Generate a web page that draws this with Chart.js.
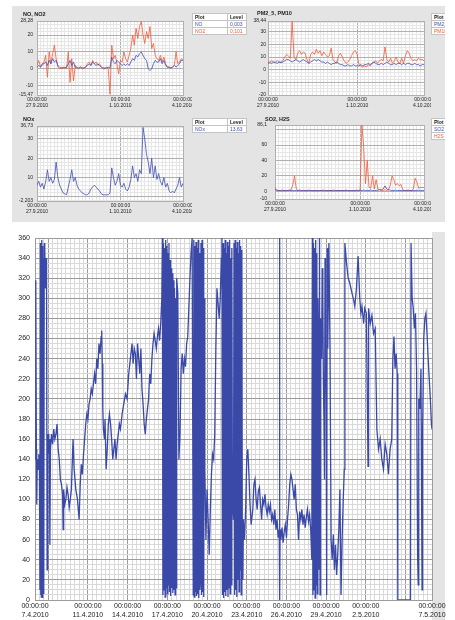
<!DOCTYPE html>
<html lang="cs">
<head>
<meta charset="UTF-8">
<title>Imise a směr větru</title>
<script src="https://cdn.jsdelivr.net/npm/chart.js@4.4.0/dist/chart.umd.min.js"></script>
<style>
  body { margin: 0; width: 455px; height: 620px; position: relative; overflow: hidden; background: #fff;
         font-family: "Liberation Sans", Arial, sans-serif; color: #222; }
  .panel { position: absolute; left: 12px; top: 6px; width: 433px; height: 216px; background: #e4e4e4; }
  .strip { position: absolute; left: 432px; top: 232px; width: 13px; height: 388px; background: #e4e4e4; }
  .box { position: absolute; }
  .ttl { position: absolute; font-size: 5.5px; font-weight: bold; white-space: nowrap; }
  .clip { position: absolute; left: 431px; width: 14px; overflow: hidden; }
  .leg { position: absolute; border-collapse: collapse; font-size: 5px; line-height: 6px; background: #fff; }
  .leg td, .leg th { border: 1px solid #c4c4c4; padding: 0 2px; height: 6px; text-align: left; white-space: nowrap; }
  .leg th { font-weight: bold; }
  .b { color: #3f4db0; }
  .r { color: #ef5a38; }
</style>
</head>
<body>
<div class="panel"></div>
<div class="strip"></div>

<div class="box" style="left:12px;top:6px;width:180px;height:106px"><canvas id="c1"></canvas></div>
<div class="box" style="left:250px;top:6px;width:181px;height:106px"><canvas id="c2"></canvas></div>
<div class="box" style="left:12px;top:112px;width:180px;height:106px"><canvas id="c3"></canvas></div>
<div class="box" style="left:250px;top:112px;width:181px;height:104px"><canvas id="c4"></canvas></div>
<div class="box" style="left:0;top:228px;width:455px;height:392px"><canvas id="c5"></canvas></div>

<div class="ttl" style="left:23px;top:11px">NO, NO2</div>
<div class="ttl" style="left:257px;top:10px">PM2_5, PM10</div>
<div class="ttl" style="left:23px;top:116px">NOx</div>
<div class="ttl" style="left:265px;top:116px">SO2, H2S</div>

<table class="leg" style="left:192px;top:13px">
  <tr><th style="width:30px">Plot</th><th style="width:14px">Level</th></tr>
  <tr><td class="b">NO</td><td class="b">0,003</td></tr>
  <tr><td class="r">NO2</td><td class="r">0,101</td></tr>
</table>
<table class="leg" style="left:192px;top:118px">
  <tr><th style="width:30px">Plot</th><th style="width:14px">Level</th></tr>
  <tr><td class="b">NOx</td><td class="b">13,63</td></tr>
</table>
<div class="clip" style="top:13px;height:30px">
  <table class="leg" style="left:0;top:0">
    <tr><th style="width:30px">Plot</th></tr>
    <tr><td class="b">PM2_5</td></tr>
    <tr><td class="r">PM10</td></tr>
  </table>
</div>
<div class="clip" style="top:118px;height:30px">
  <table class="leg" style="left:0;top:0">
    <tr><th style="width:30px">Plot</th></tr>
    <tr><td class="b">SO2</td></tr>
    <tr><td class="r">H2S</td></tr>
  </table>
</div>

<script>
  // --- horni grafy: 27.9.2010 - 4.10.2010, hodnota kazde 2 hodiny ---
  const weekLabels = { 0: ['00:00:00', '27.9.2010'], 96: ['00:00:00', '1.10.2010'], 168: ['00:00:00', '4.10.2010'] };

  const noSeries = [1, 2, 1, 3,
    3, 4, 2, 5, 3, 6, 4, 5,
    2, 1, 0.5, 1, 0.5, 1,
    3, 5, 2, 4, 1, 0.5,
    0.5, 1, 0.5, 0.5, 1, 2,
    3, 2, 4, 3, 2, 3, 2, 1, 0.5,
    0.5, 0.5, 1, 0.5, 7,
    4, 3, 5, 4, 3, 2, 3,
    2, 3, 2, 4, 6,
    5, 8, 7, 9, 10, 8, 6, 5,
    0, -1, 0, 3, 5, 4,
    4, 6, 3, 5, 2, 1,
    1, 0.5, 1, 2, 1,
    2, 3, 5, 5];
  const no2Series = [2, 5, 1, 2,
    4, 8, -5, 10, 3, 9, 14, 6,
    1, 0, 0.5, 0, 1, 0,
    10, -8, 6, -7, 2, 1,
    0, 1, 0, 0.5, 1, 3,
    4, 2, 5, 3, 4, 2, 3, 1, 0,
    0, 1, 0, -15, 14,
    6, 8, 3, -3, 5, 4, 10,
    6, 4, 8, 12, 20,
    14, 24, 18, 25, 28, 20, 15, 22,
    18, 25, 12, 15, 8, 6,
    5, 8, 4, 7, 3, 1,
    1, 0.5, 1, 2, 10,
    3, 4, 6, 5];

  const pm25Series = [5, 5.5, 5, 6, 5.5, 5, 6, 5.5, 6, 7, 8, 8,
    7, 6, 7, 8, 7, 6, 7, 8, 7, 6, 5, 6,
    7, 8, 7, 8, 7, 6, 6, 5, 6, 5, 4, 5,
    5, 6, 5, 4, 4, 3, 3, 4, 3, 3, 4, 3,
    3, 3, 4, 3, 4, 4, 5, 4, 5, 6, 5, 4,
    4, 5, 4, 5, 6, 5, 4, 4, 5, 4, 5, 5,
    4, 5, 4, 5, 5, 4, 4, 5, 4, 4, 3, 4, 4];
  const pm10Series = [6, 6, 7, 6, 6, 7, 6, 6, 7, 10, 12, 11,
    9, 38, 10, 8, 13, 15, 12, 14, 13, 8, 5, 12,
    14, 12, 16, 13, 15, 11, 14, 12, 10, 11, 17, 8,
    6, 5, 11, 13, 10, 7, 5, 6, 8, 11, 14, 15,
    12, 4, 3, 2, 3, 2, 4, 3, 5, 6, 7, 5,
    7, 8, 7, 18, 8, 6, 9, 5, 7, 10, 6, 5,
    9, 5, 11, 15, 13, 9, 7, 8, 7, 9, 8, 8, 7];

  const noxSeries = [6, 8, 5, 7, 4, 8, 14, 8, 10, 7, 9, 18,
    10, 6, 4, 2, 1.5, 1, 5, 9, 14, 8, 10, 6,
    4, 3, 2, 1.5, 1, 1, 2, 4, 5, 6, 5, 4,
    3, 1.5, 1, 1, 1, 1, 2, 15, 10, 6, 8, 12,
    6, 5, 7, 4, 3, 5, 9, 16, 10, 12, 8, 14,
    12, 36, 30, 22, 18, 12, 20, 10, 16, 9, 12, 8,
    6, 10, 5, 7, 3, 2, 3, 2, 4, 6, 10, 5, 7];

  const so2Series = [2, 1.5, 1, 1, 1.5, 1, 1, 1, 1.5, 1, 1, 1,
    1, 1, 1.5, 1, 1, 1, 1, 1.5, 1, 1, 1, 1,
    1, 1, 1, 1.5, 1, 1, 1, 1, 1, 1.5, 1, 1,
    1, 1, 1, 1, 1.5, 1, 1, 1, 1, 1, 1.5, 1,
    1, 1, 1.5, 1, 1, 1, 1.5, 1, 1, 1, 1.5, 2,
    2, 3, 7, 3, 2, 1.5, 1, 1, 1.5, 1, 1, 1,
    1, 1, 1, 1.5, 1, 1, 1, 1, 1, 1.5, 1, 1, 1];
  const h2sSeries = [5, 1, 1, 1, 0.5, 1, 1, 1, 1, 2, 8, 20,
    3, 1, 1, 0.5, 1, 1, 0.5, 1, 1, 0.5, 1, 1,
    0.5, 1, 1, 0.5, 1, 1, 0.5, 1, 1, 0.5, 1, 1,
    0.5, 1, 1, 0.5, 1, 1, 0.5, 1, 1, 0.5, 1, 1,
    2, 86, 57, 10, 40, 5, 4, 20, 3, 15, 3, 2,
    1, 1, 2, 1, 2, 8, 20, 15, 8, 10, 7, 9,
    2, 1, 1, 1, 1, 1, 3, 17, 12, 4, 5, 5, 5];

  // --- dolni graf: smer vetru 7.4.2010 - 7.5.2010, hodiny od zacatku ---
  const windHours = [0, 1, 1.8, 2.5, 3.2, 4, 5, 6, 7, 8,
    9, 9.6, 10.2, 10.8, 11.4, 12, 12.6, 13.2, 13.8, 14.4, 15, 15.6, 16.2, 16.8, 17.4, 18, 19, 20, 21, 22,
    23, 24, 25, 26, 27, 28, 30, 32, 34, 36, 38, 40, 42, 44, 46, 48, 50, 51, 52, 54,
    56, 58, 60, 62, 64, 66, 69, 71, 74, 77, 80, 82, 84, 86, 88, 90, 92, 94, 96, 98,
    100, 102, 104, 106, 108, 110, 112, 114, 116, 118, 120, 121, 122, 123, 124, 126, 127, 129, 131, 133,
    135, 137, 139, 141, 143, 145, 147, 149, 151, 153, 155, 158, 161, 164, 167, 170, 173, 176, 178, 180,
    182, 184, 186, 188, 190, 192, 194, 196, 198, 200, 202, 204, 206, 208, 210, 212, 214, 216, 218, 220,
    222, 224, 226, 228, 230, 231, 232, 233, 234, 235, 236, 237, 238, 239, 240, 241, 242, 243, 244, 245,
    246, 247, 248, 249, 250, 251, 252, 253, 254, 255, 256, 257, 259, 261, 263, 265, 267, 269, 271, 273,
    275, 277, 279, 281, 283, 285, 287, 288, 289, 290, 291, 292, 293, 294, 295, 296, 297, 298, 299, 300,
    301, 302, 303, 304, 305, 306, 307, 308, 310, 312, 314, 316, 318, 320, 322, 324, 326, 328, 330, 332,
    334, 336, 338, 339, 340, 341, 342, 343, 344, 345, 346, 347, 348, 349, 350, 351, 352, 353, 354, 355,
    356, 357, 358, 360, 361, 362, 363, 364, 365, 366, 367, 368, 369, 370, 371, 372, 373, 374, 375, 376,
    377, 378, 380, 382, 384, 386, 388, 390, 392, 395, 397, 399, 401, 403, 405, 407, 409, 411, 413, 415,
    417, 419, 421, 423, 425, 427, 429, 431, 433, 435, 437, 439, 441, 443, 443.5, 444, 444.5, 446, 448, 450,
    452, 454, 456, 458, 460, 462, 464, 466, 468, 470, 472, 474, 476, 478, 480, 482, 484, 486, 488, 490,
    492, 494, 496, 498, 500, 502, 503, 504, 505, 506, 507, 508, 509, 510, 511, 512, 513, 514, 515, 516,
    517, 518, 520, 521, 522, 523, 524, 525, 526, 527, 528, 529, 530, 531, 533, 535, 537, 539, 541, 543,
    545, 547, 549, 551, 553, 555, 557, 559, 561, 562, 565, 568, 571, 575, 578, 580, 583, 586, 589, 591,
    593, 596, 598, 601, 604, 605, 608, 611, 614, 617, 620, 623, 626, 629, 632, 635, 638, 641, 644, 647,
    649, 651, 653, 655, 657, 658, 681, 682, 684, 686, 688, 690, 692, 694, 695, 696, 698, 700, 702, 703,
    705, 707, 709, 711, 713, 715, 717, 719, 720];
  const windDeg = [140, 300, 318, 150, 95, 135, 140, 130, 145, 135,
    10, 355, 5, 350, 3, 358, 8, 352, 2, 346, 10, 340, 6, 355, 330, 350, 310, 340, 305, 30,
    150, 165, 145, 160, 55, 150, 165, 155, 170, 160, 165, 175, 150, 140, 120, 115, 105, 70, 110, 95,
    100, 112, 105, 92, 100, 110, 160, 130, 110, 100, 80, 115, 135, 125, 145, 160, 175, 185, 180, 195,
    200, 210, 205, 215, 225, 215, 240, 230, 255, 245, 262, 268, 235, 190, 170, 160, 180, 130, 150, 175,
    185, 175, 160, 140, 150, 160, 140, 155, 165, 175, 170, 185, 195, 205, 200, 225, 240, 255, 235, 250,
    245, 220, 255, 240, 225, 250, 210, 195, 175, 165, 180, 190, 200, 225, 215, 240, 255, 265, 258, 250,
    262, 270, 258, 275, 300, 360, 5, 355, 10, 350, 3, 358, 12, 352, 6, 345, 15, 355, 8, 338,
    4, 330, 12, 325, 7, 318, 10, 310, 5, 300, 12, 320, 305, 140, 165, 230, 245, 225, 240, 232,
    255, 262, 290, 320, 345, 360, 5, 358, 3, 352, 8, 356, 4, 350, 6, 358, 2, 345, 10, 20,
    355, 5, 358, 8, 350, 3, 300, 130, 60, 110, 80, 45, 90, 125, 145, 140, 165, 250, 310, 295,
    280, 300, 340, 360, 5, 355, 2, 350, 8, 358, 4, 345, 10, 356, 3, 352, 12, 358, 6, 340,
    15, 350, 100, 80, 355, 5, 358, 10, 350, 3, 356, 20, 345, 8, 358, 30, 352, 5, 348, 40,
    20, 80, 60, 90, 140, 150, 125, 95, 75, 90, 115, 120, 100, 90, 108, 112, 95, 80, 100, 95,
    105, 92, 85, 95, 88, 95, 80, 85, 75, 90, 70, 80, 62, 70, 360, 0, 70, 60, 72, 57,
    68, 75, 62, 80, 95, 115, 125, 120, 110, 100, 115, 90, 85, 60, 88, 80, 90, 75, 85, 72,
    82, 90, 78, 85, 70, 40, 360, 5, 355, 10, 350, 2, 358, 15, 345, 6, 300, 250, 30, 360,
    5, 280, 240, 330, 300, 220, 180, 120, 340, 260, 200, 5, 350, 250, 355, 250, 60, 40, 65, 30,
    55, 25, 45, 70, 110, 5, 60, 100, 130, 355, 335, 320, 315, 305, 298, 292, 310, 342, 300, 285,
    292, 275, 290, 285, 133, 290, 275, 283, 265, 270, 170, 150, 160, 140, 130, 155, 145, 125, 150, 160,
    240, 262, 230, 245, 225, 0, 0, 355, 300, 290, 270, 285, 230, 40, 15, 200, 190, 230, 10, 170,
    260, 280, 285, 265, 240, 220, 200, 175, 170];
  const monthLabels = {
    0: ['00:00:00', '7.4.2010'], 96: ['00:00:00', '11.4.2010'], 168: ['00:00:00', '14.4.2010'],
    240: ['00:00:00', '17.4.2010'], 312: ['00:00:00', '20.4.2010'], 384: ['00:00:00', '23.4.2010'],
    456: ['00:00:00', '26.4.2010'], 528: ['00:00:00', '29.4.2010'], 600: ['00:00:00', '2.5.2010'],
    720: ['00:00:00', '7.5.2010']
  };

  const BLUE = '#3f4db0';
  const RED = '#ef5a38';

  Chart.defaults.font.family = '"Liberation Sans", Arial, sans-serif';
  Chart.defaults.color = '#222';

  // bila plocha grafu
  const plotBg = {
    id: 'plotBg',
    beforeDraw(chart) {
      const { ctx, chartArea: a } = chart;
      ctx.save();
      ctx.fillStyle = '#fff';
      ctx.fillRect(a.left, a.top, a.width, a.height);
      ctx.restore();
    }
  };

  function stepList(min, max, step) {
    const out = [min];
    for (let v = Math.ceil(min / step) * step; v < max - 1e-9; v += step) {
      if (v > min + 1e-9) out.push(+v.toFixed(4));
    }
    out.push(max);
    return out;
  }

  function comma(v) { return String(v).replace('.', ','); }

  function series(xs, ys, color, w) {
    return {
      data: xs.map((x, i) => ({ x: x, y: ys[i] })),
      borderColor: color, borderWidth: w, pointRadius: 0, tension: 0, fill: false
    };
  }

  function drawChart(id, o) {
    new Chart(document.getElementById(id), {
      type: 'line',
      data: { datasets: o.sets },
      options: {
        responsive: true, maintainAspectRatio: false, animation: false, events: [],
        layout: { padding: { left: 0, top: o.top, right: o.right, bottom: 0 } },
        plugins: { legend: { display: false }, tooltip: { enabled: false } },
        scales: {
          x: {
            type: 'linear', min: o.xMin, max: o.xMax, bounds: 'data',
            afterBuildTicks: s => { s.ticks = o.xTicks.map(v => ({ value: v })); },
            afterFit: s => { s.height = o.xH; s.paddingLeft = 0; s.paddingRight = 0; },
            ticks: { autoSkip: false, maxRotation: 0, minRotation: 0, padding: 2,
                     font: { size: o.fs }, callback: v => o.xLabels[v] || '' },
            grid: { drawTicks: false, color: c => (c.tick && o.xMajor(c.tick.value)) ? o.majorC : o.minorC },
            border: { color: o.majorC }
          },
          y: {
            type: 'linear', min: o.yMin, max: o.yMax, bounds: 'data',
            afterBuildTicks: s => { s.ticks = o.yTicks.map(v => ({ value: v })); },
            afterFit: s => { s.width = o.yW; s.paddingTop = 0; s.paddingBottom = 0; },
            ticks: { autoSkip: false, padding: o.yPad, font: { size: o.fs },
                     callback: v => o.yLabels.includes(v) ? comma(v) : '' },
            grid: { drawTicks: false, color: c => (c.tick && o.yMajor(c.tick.value)) ? o.majorC : o.minorC },
            border: { color: o.majorC }
          }
        }
      },
      plugins: [plotBg]
    });
  }

  const weekHours = noSeries.map((v, i) => i * 2);
  const weekX = {
    xMin: 0, xMax: 168, xTicks: stepList(0, 168, 4), xLabels: weekLabels,
    xMajor: v => v === 0 || v === 96 || v === 168, xH: 17, fs: 5,
    majorC: '#b0b0b0', minorC: '#e6e6e6'
  };

  drawChart('c1', Object.assign({}, weekX, {
    sets: [series(weekHours, noSeries, BLUE, 0.8), series(weekHours, no2Series, RED, 0.8)],
    top: 15, right: 9, yW: 25, yPad: 4,
    yMin: -15.47, yMax: 28.28, yTicks: stepList(-15.47, 28.28, 2),
    yLabels: [28.28, 20, 10, 0, -10, -15.47], yMajor: v => v % 10 === 0 || v === 28.28 || v === -15.47
  }));

  drawChart('c2', Object.assign({}, weekX, {
    sets: [series(weekHours, pm25Series, BLUE, 0.8), series(weekHours, pm10Series, RED, 0.8)],
    top: 15, right: 7, yW: 18, yPad: 2,
    yMin: -20, yMax: 38.44, yTicks: stepList(-20, 38.44, 2.5),
    yLabels: [38.44, 30, 20, 10, 0, -10, -20], yMajor: v => v % 10 === 0 || v === 38.44
  }));

  drawChart('c3', Object.assign({}, weekX, {
    sets: [series(weekHours, noxSeries, BLUE, 0.8)],
    top: 14, right: 9, yW: 25, yPad: 4,
    yMin: -2.203, yMax: 36.73, yTicks: stepList(-2.203, 36.73, 2),
    yLabels: [36.73, 30, 20, 10, -2.203], yMajor: v => v % 10 === 0 || v === 36.73 || v === -2.203
  }));

  drawChart('c4', Object.assign({}, weekX, {
    sets: [series(weekHours, so2Series, BLUE, 0.8), series(weekHours, h2sSeries, RED, 0.8)],
    top: 13, right: 7, yW: 25, yPad: 8,
    yMin: -10, yMax: 86.1, yTicks: stepList(-10, 86.1, 5),
    yLabels: [86.1, 60, 40, 20, 0, -10], yMajor: v => v % 20 === 0 || v === 86.1 || v === -10
  }));

  drawChart('c5', {
    sets: [series(windHours, windDeg, '#3a49a8', 1.3)],
    top: 10, right: 23, yW: 35, yPad: 5, xH: 20, fs: 7,
    xMin: 0, xMax: 720, xTicks: stepList(0, 720, 8), xLabels: monthLabels,
    xMajor: v => v === 0 || v === 720 || (v >= 24 && (v - 24) % 72 === 0),
    yMin: 0, yMax: 360, yTicks: stepList(0, 360, 5),
    yLabels: stepList(0, 360, 20), yMajor: v => v % 20 === 0,
    majorC: '#9c9c9c', minorC: '#d9d9d9'
  });
</script>
</body>
</html>
